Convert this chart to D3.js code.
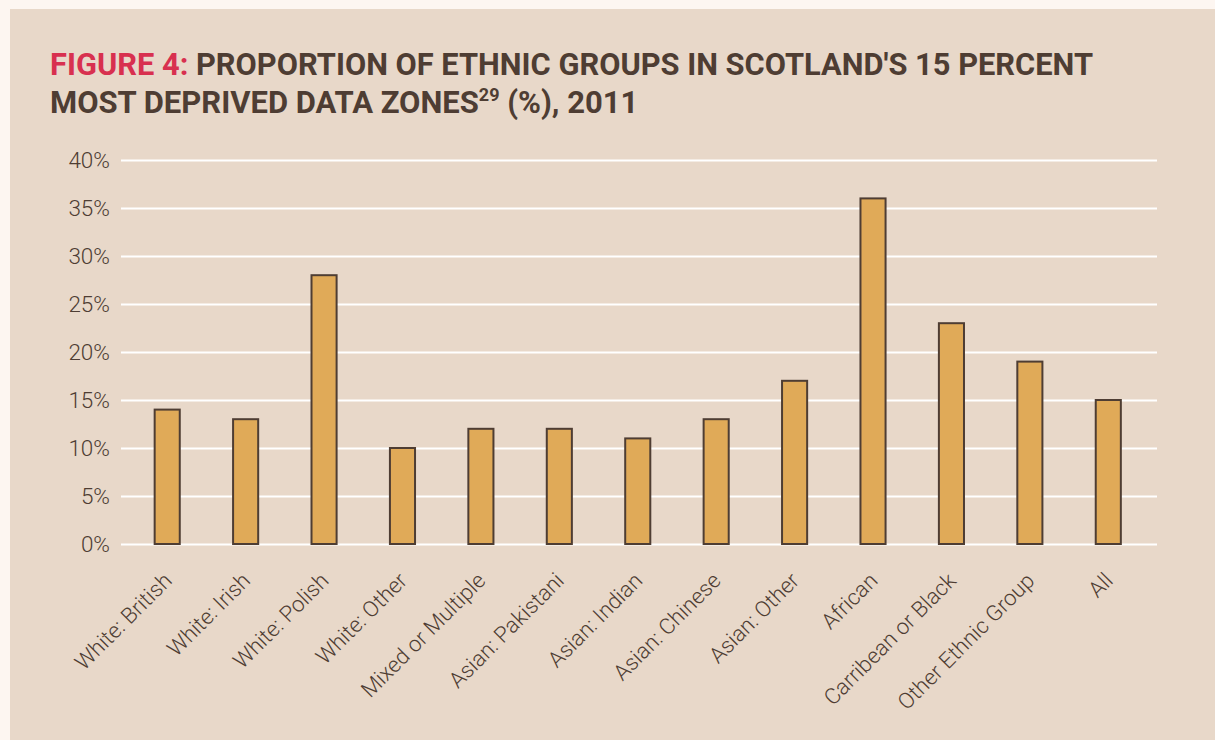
<!DOCTYPE html>
<html><head><meta charset="utf-8">
<script src="https://cdn.jsdelivr.net/npm/d3@7"></script>
<style>
html,body{margin:0;padding:0;background:#fdf6f1;}
svg{display:block;}
</style></head>
<body>
<svg id="chart" width="1215" height="740"></svg>
<script>
const categories = ["White: British","White: Irish","White: Polish","White: Other","Mixed or Multiple","Asian: Pakistani","Asian: Indian","Asian: Chinese","Asian: Other","African","Carribean or Black","Other Ethnic Group","All"];
const values = [14,13,28,10,12,12,11,13,17,36,23,19,15];
const yTicks = [0,5,10,15,20,25,30,35,40];

const svg = d3.select("#chart");
const ink = "#4e3d33";
svg.append("rect").attr("x",10).attr("y",9).attr("width",1205).attr("height",731).attr("fill","#e8d8c9");

// Title
const t1 = svg.append("text").attr("x",50).attr("y",75)
  .attr("font-family","Roboto, sans-serif").attr("font-weight",700).attr("font-size",31)
  .attr("textLength",1043).attr("lengthAdjust","spacingAndGlyphs");
t1.append("tspan").attr("fill","#d8304f").text("FIGURE 4: ");
t1.append("tspan").attr("fill",ink).text("PROPORTION OF ETHNIC GROUPS IN SCOTLAND'S 15 PERCENT");
const t2 = svg.append("text").attr("x",50).attr("y",113)
  .attr("font-family","Roboto, sans-serif").attr("font-weight",700).attr("font-size",31).attr("fill",ink);
t2.append("tspan").text("MOST DEPRIVED DATA ZONES");
t2.append("tspan").attr("font-size",18).attr("dy",-12).text("29");
t2.append("tspan").attr("dy",12).text(" (%), 2011");

const y = d3.scaleLinear().domain([0,40]).range([544,160]);
const x = d3.scaleBand().domain(categories).range([128,1147.5]).paddingInner(0.68).paddingOuter(0.34);

// grid
const yAxis = d3.axisLeft(y).tickValues(yTicks).tickFormat(d=>d+"%").tickSize(-1036).tickPadding(11);
const ga = svg.append("g").attr("transform","translate(121,0)").call(yAxis);
ga.select(".domain").remove();
ga.selectAll(".tick line").attr("stroke","#ffffff").attr("stroke-width",2);
ga.selectAll(".tick text").attr("fill",ink).attr("font-family","Roboto, sans-serif").attr("font-weight",300).attr("font-size",22.5).attr("dy","0.35em");

// bars
svg.append("g").selectAll("rect").data(values).join("rect")
  .attr("x",(d,i)=>x(categories[i]))
  .attr("y",d=>y(d))
  .attr("width",x.bandwidth())
  .attr("height",d=>y(0)-y(d))
  .attr("fill","#e0aa58").attr("stroke",ink).attr("stroke-width",2);

// x labels
const xAxis = d3.axisBottom(x).tickSize(0).tickPadding(0);
const gx = svg.append("g").attr("transform","translate(0,544)").call(xAxis);
gx.select(".domain").remove();
gx.selectAll(".tick text")
  .attr("fill",ink).attr("font-family","Roboto, sans-serif").attr("font-weight",300).attr("font-size",22)
  .attr("text-anchor","end").attr("dy",null).attr("y",null)
  .attr("transform","translate(6,38) rotate(-45)");
</script>
</body></html>
